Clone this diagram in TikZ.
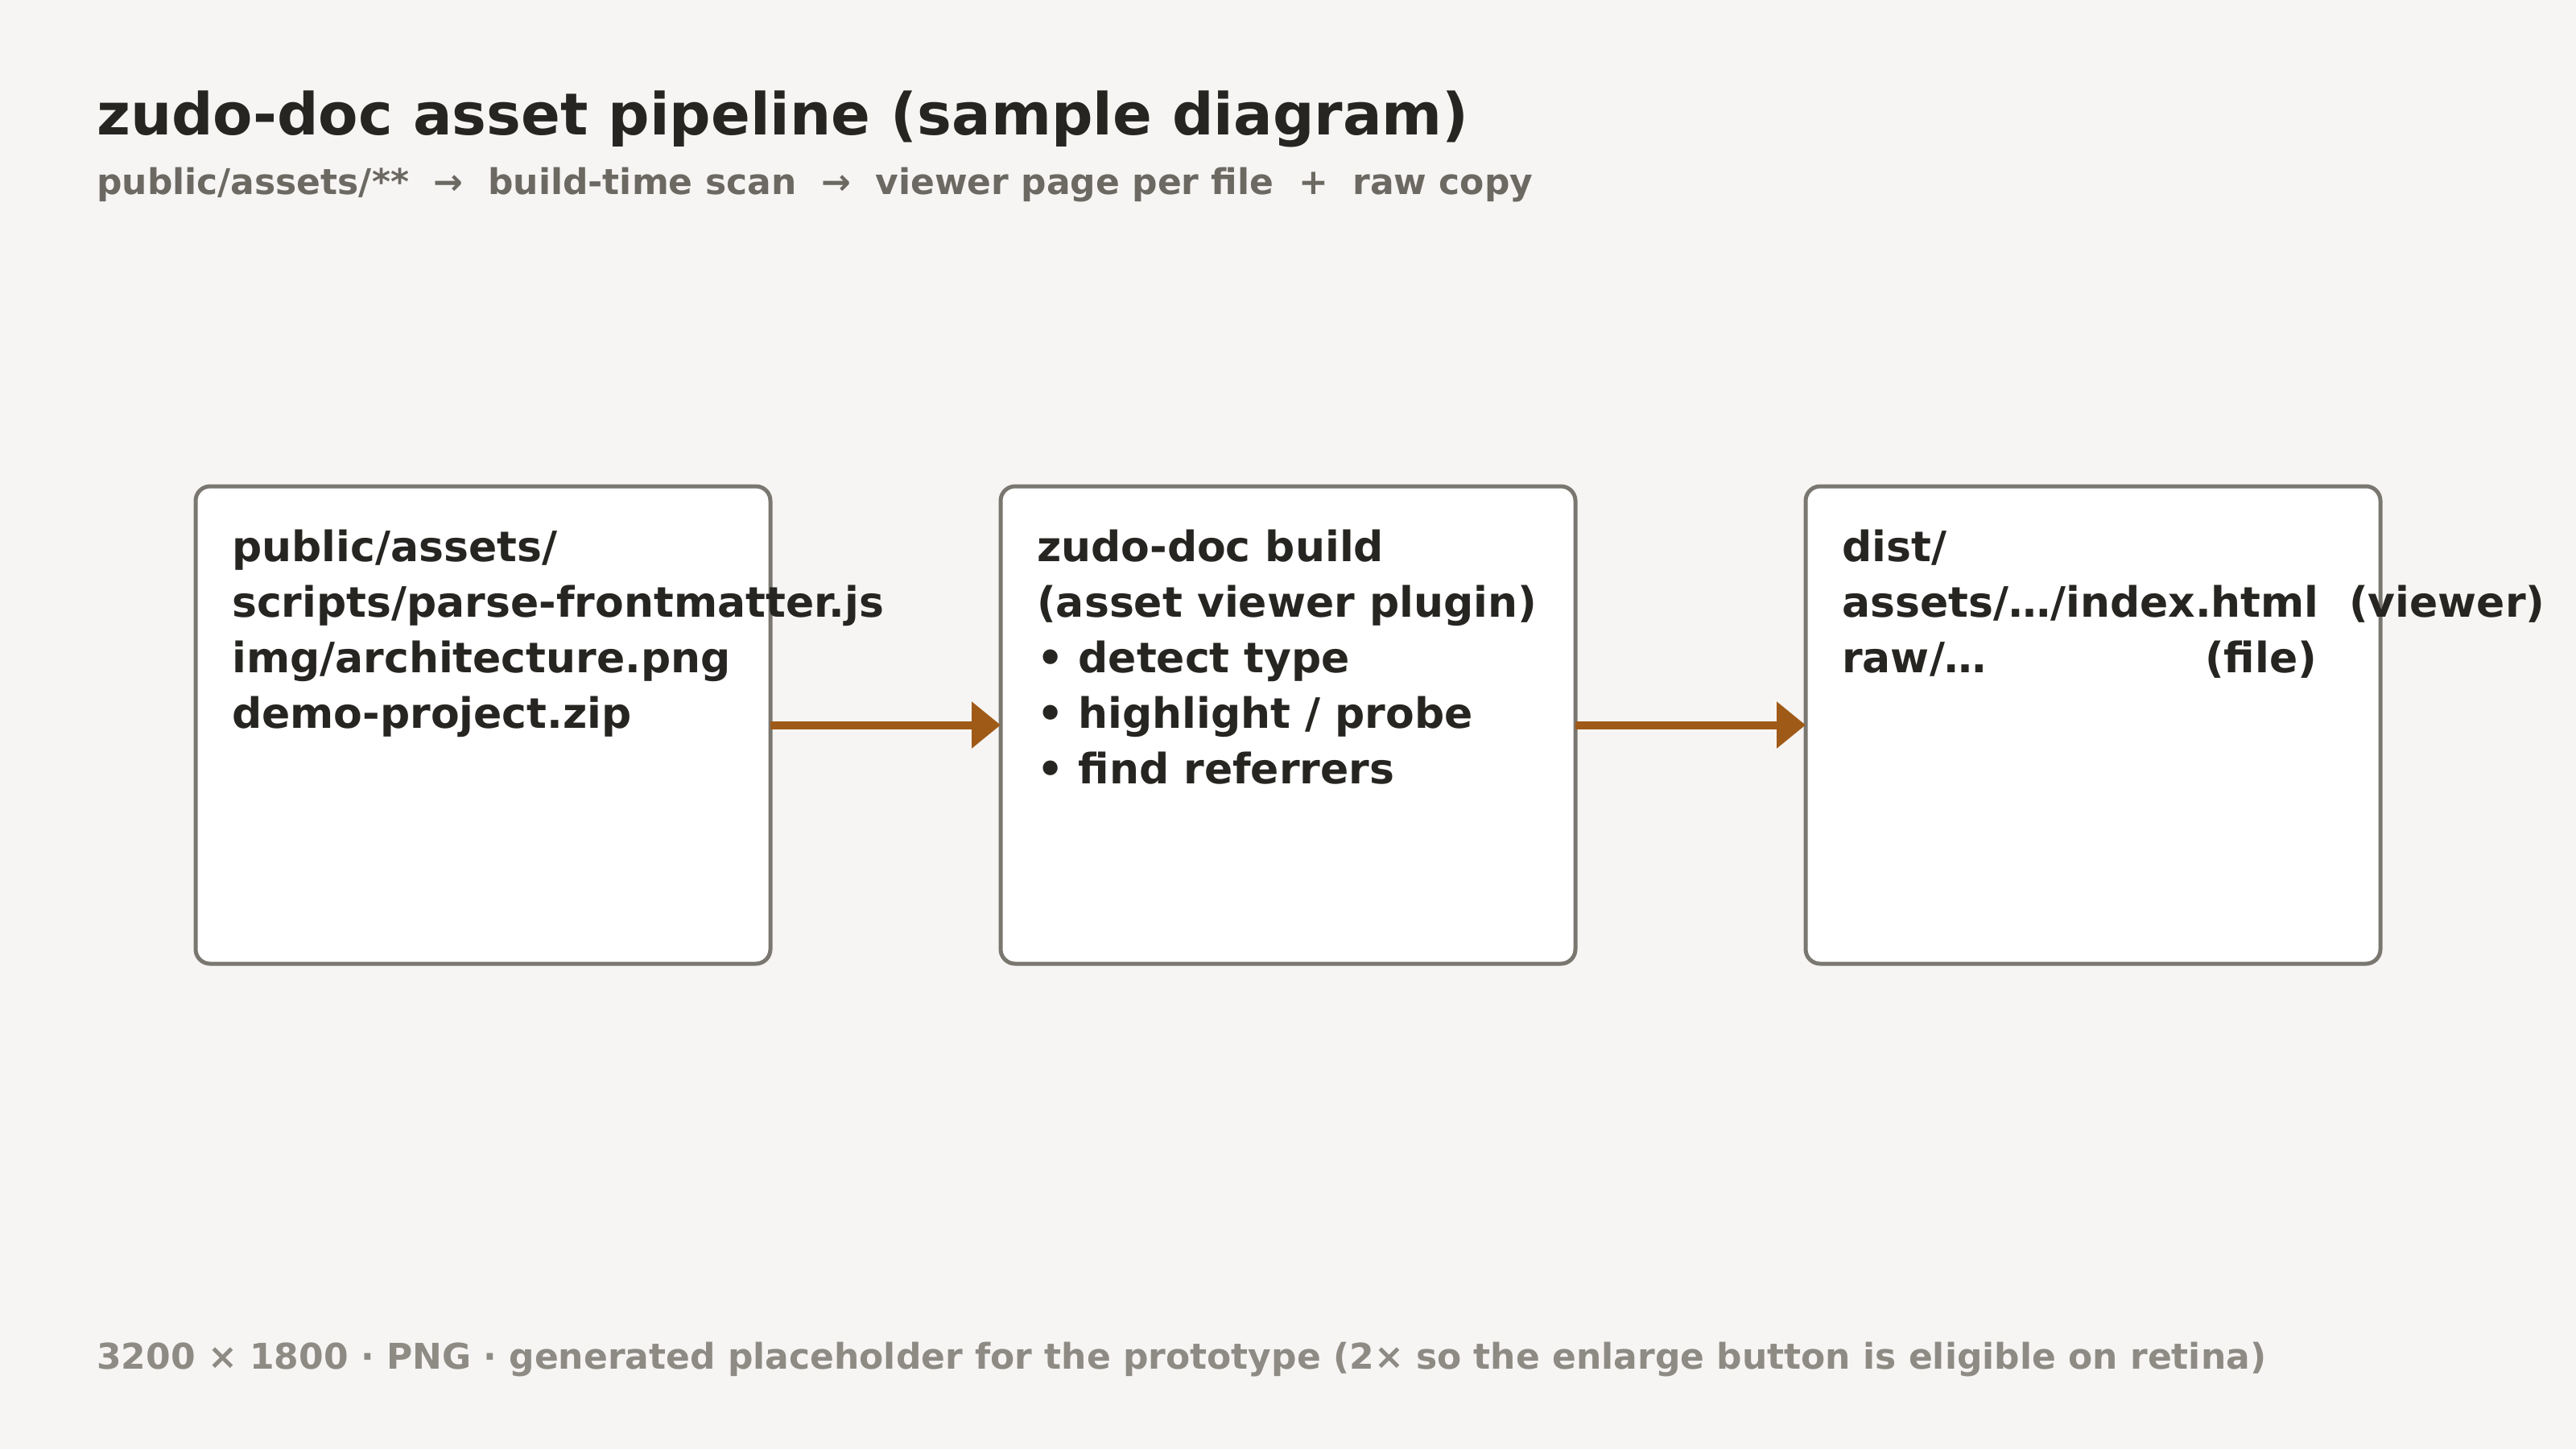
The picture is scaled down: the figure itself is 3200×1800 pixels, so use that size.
\documentclass[tikz,border=0pt]{standalone}
\usepackage{fontspec}
\setmainfont{DejaVu Sans}
\usetikzlibrary{arrows.meta,positioning}
\definecolor{paper}{HTML}{F6F5F3}
\definecolor{ink}{HTML}{262522}
\definecolor{subink}{HTML}{6B6962}
\definecolor{footink}{HTML}{8D8B84}
\definecolor{boxedge}{HTML}{7A7770}
\definecolor{rust}{HTML}{A05A18}
\tikzset{
  stagebox/.style={draw=boxedge, line width=5pt, fill=white, rounded corners=18pt,
    minimum width=714pt, minimum height=593pt, inner sep=0pt, outer sep=0pt},
  stagetext/.style={anchor=north west, inner sep=0pt, align=left, text=ink,
    font={\fontsize{52pt}{69pt}\selectfont\bfseries}},
  headline/.style={anchor=base west, inner sep=0pt},
  flow/.style={draw=rust, line width=10pt, -{Triangle[length=36pt, width=56pt]}},
}
\begin{document}
\begin{tikzpicture}[x=1pt, y=-1pt]
    \fill[paper] (0,0) rectangle (3200,1800);
    \useasboundingbox (0,0) rectangle (3200,1800);
    \node[headline, text=ink, font={\fontsize{72pt}{86pt}\selectfont\bfseries}] (title) at (120,167) {zudo-doc asset pipeline (sample diagram)};
    \node[headline, text=subink, font={\fontsize{44pt}{52pt}\selectfont\bfseries}] (subtitle) at (120,241) {public/assets/**\ \ →\ \ build-time scan\ \ →\ \ viewer page per file\ \ +\ \ raw copy};
    % the three stages
    \node[stagebox] (src) at (600,900.5) {};
    \node[stagebox] (build) at (1600,900.5) {};
    \node[stagebox] (dist) at (2600,900.5) {};
    \node[stagetext] (srctext) at ([xshift=45pt, yshift=-43.5pt]src.north west) {\rule{0pt}{50pt}public/assets/\\ scripts/parse-frontmatter.js\\ img/architecture.png\\ demo-project.zip};
    \node[stagetext] (buildtext) at ([xshift=45pt, yshift=-43.5pt]build.north west) {\rule{0pt}{50pt}zudo-doc build\\ (asset viewer plugin)\\ • detect type\\ • highlight / probe\\ • find referrers};
    \node[stagetext] (disttext) at ([xshift=45pt, yshift=-43.5pt]dist.north west) {\rule{0pt}{50pt}dist/\\ \makebox[630pt][l]{assets/…/index.html}(viewer)\\ \makebox[451pt][l]{raw/…}(file)};
    \foreach \a/\b in {src/build, build/dist}
    {\draw[flow] (\a.east) -- (\b.west);}
    \node[headline, text=footink, font={\fontsize{44pt}{52pt}\selectfont\bfseries}] (footer) at (120,1700) {3200 × 1800 · PNG · generated placeholder for the prototype (2× so the enlarge button is eligible on retina)};
\end{tikzpicture}
\end{document}
